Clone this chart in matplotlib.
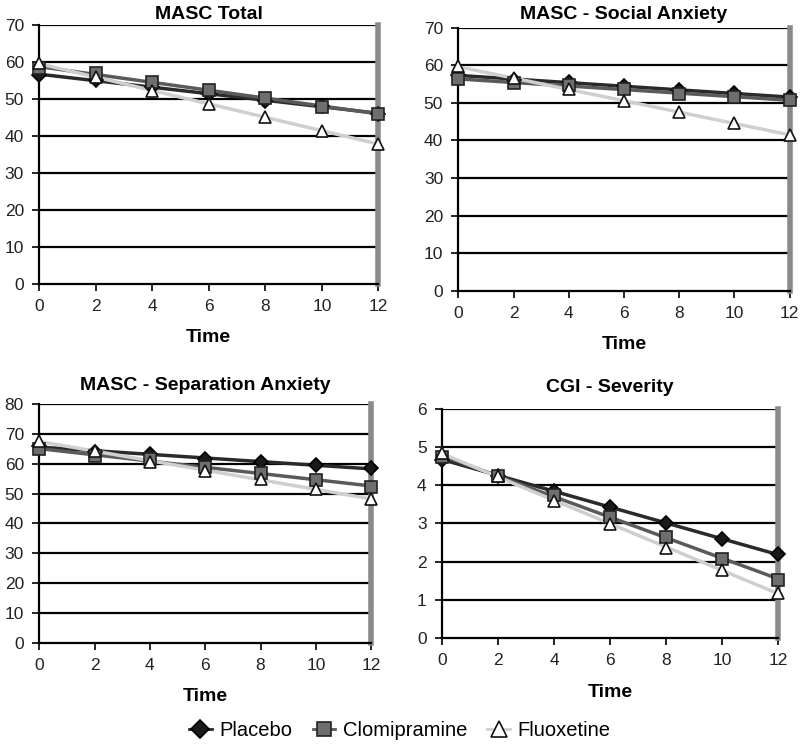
import numpy as np
import matplotlib
matplotlib.use("Agg")
import matplotlib.pyplot as plt
from matplotlib.lines import Line2D

plt.rcParams["font.family"] = ["Liberation Sans", "DejaVu Sans"]

weeks = [0, 2, 4, 6, 8, 10, 12]
groups = ["Placebo", "Clomipramine", "Fluoxetine"]

masc_total_placebo = [56.5, 55.0, 53.3, 51.3, 49.5, 48.0, 46.0]
masc_total_clomi = [58.3, 56.9, 54.6, 52.4, 50.2, 47.9, 45.9]
masc_total_fluox = [59.6, 55.8, 52.2, 48.6, 45.0, 41.4, 37.8]

social_placebo = [57.5, 56.0, 55.5, 54.5, 53.5, 52.5, 51.5]
social_clomi = [56.3, 55.3, 54.8, 53.7, 52.4, 51.5, 50.8]
social_fluox = [59.7, 56.5, 53.7, 50.4, 47.5, 44.6, 41.5]

separation_placebo = [66.0, 64.0, 63.2, 61.7, 60.6, 59.5, 58.5]
separation_clomi = [64.8, 62.7, 61.5, 59.0, 56.8, 54.6, 52.3]
separation_fluox = [67.6, 64.3, 60.7, 57.7, 54.9, 51.4, 48.2]

cgi_placebo = [4.67, 4.25, 3.86, 3.44, 3.00, 2.59, 2.19]
cgi_clomi = [4.74, 4.23, 3.75, 3.18, 2.65, 2.07, 1.53]
cgi_fluox = [4.84, 4.23, 3.60, 2.98, 2.36, 1.78, 1.18]

# name, (placebo, clomi, fluox), ymax, ystep, axes rect, title pad
PANELS = [
    ("MASC Total", (masc_total_placebo, masc_total_clomi, masc_total_fluox),
     70, 10, [0.049, 0.622, 0.424, 0.345], 4),
    ("MASC - Social Anxiety", (social_placebo, social_clomi, social_fluox),
     70, 10, [0.573, 0.613, 0.414, 0.350], 6),
    ("MASC - Separation Anxiety", (separation_placebo, separation_clomi, separation_fluox),
     80, 10, [0.049, 0.144, 0.415, 0.318], 10),
    ("CGI - Severity", (cgi_placebo, cgi_clomi, cgi_fluox),
     6, 1, [0.5525, 0.1505, 0.420, 0.305], 12),
]

STYLES = [
    dict(marker="D", mfc="#1a1a1a", mec="#000000", ms=7, line="#2a2a2a"),
    dict(marker="s", mfc="#6e6e6e", mec="#222222", ms=8, line="#5a5a5a"),
    dict(marker="^", mfc="#ffffff", mec="#111111", ms=9, line="#cfcfcf"),
]

fig = plt.figure(figsize=(8, 7.51), dpi=100)

for title, series, ymax, ystep, rect, tpad in PANELS:
    ax = fig.add_axes(rect)
    x = np.array(weeks, dtype=float)
    for vals, st in zip(series, STYLES):
        # trend line fitted to the observed means
        slope, icpt = np.polyfit(x, vals, 1)
        ax.plot(x, slope * x + icpt, color=st["line"], lw=2.5, zorder=3)
    for vals, st in zip(series, STYLES):
        ax.plot(x, vals, ls="none", marker=st["marker"], mfc=st["mfc"],
                mec=st["mec"], ms=st["ms"], mew=1.2, zorder=4, clip_on=False)
    ax.set_xlim(0, 12)
    ax.set_ylim(0, ymax)
    ax.set_xticks(weeks)
    ax.set_yticks(np.arange(0, ymax + ystep, ystep))
    for yv in np.arange(ystep, ymax + ystep, ystep):
        ax.axhline(yv, color="black", lw=1.6, zorder=1)
    ax.spines["top"].set_visible(False)
    ax.spines["left"].set_linewidth(1.6)
    ax.spines["bottom"].set_linewidth(1.6)
    ax.spines["right"].set_color("#8a8a8a")
    ax.spines["right"].set_linewidth(4)
    ax.tick_params(axis="both", labelsize=12.5, length=5, width=1.2,
                   direction="out", pad=6)
    ax.set_title(title, fontsize=14, fontweight="bold", pad=tpad)
    ax.set_xlabel("Time", fontsize=14, fontweight="bold", labelpad=11)
    for lbl in ax.get_xticklabels() + ax.get_yticklabels():
        lbl.set_color("#222222")

handles = [Line2D([0], [0], color=st["line"], lw=2, marker=st["marker"],
                  mfc=st["mfc"], mec=st["mec"], ms=st["ms"] + 2, mew=1.2)
           for st in STYLES]
fig.legend(handles, groups, loc="center", bbox_to_anchor=(0.5, 0.027),
           ncol=3, frameon=False, fontsize=14.5, handlelength=1.1,
           handletextpad=0.4, columnspacing=1.0)

fig.savefig("out.png", dpi=100)
